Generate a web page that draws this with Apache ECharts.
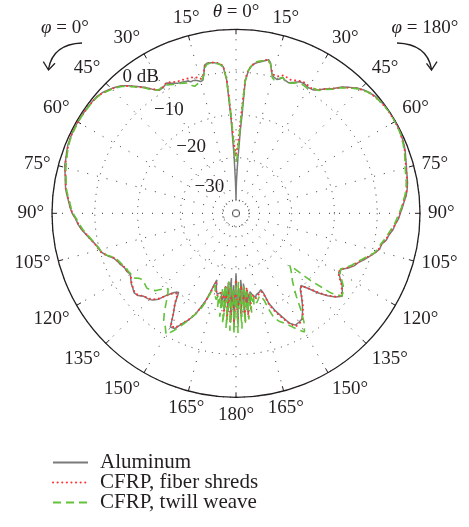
<!DOCTYPE html>
<html><head><meta charset="utf-8">
<script src="https://cdn.jsdelivr.net/npm/echarts@6/dist/echarts.min.js"></script>
<style>html,body{margin:0;padding:0;background:#fff}#c{width:469px;height:527px}</style>
</head><body><div id="c"></div>
<script>
// theta (deg) from boresight; right half = phi 180, left half = phi 0
const theta = [
  0,0.5,1,1.5,2,2.5,3,3.5,4,
  5,6,7,8,9,10,11,12,13,14,15,16,17,18,19,20,
  22,24,26,28,30,32,34,36,38,40,42,44,46,48,50,52,54,56,58,60,
  62,64,66,68,70,72,74,76,78,80,82,84,86,88,90,92,94,96,98,100,
  102,104,106,108,110,112,114,116,118,120,122,124,126,128,130,132,134,136,138,140,
  142,144,146,148,150,152,154,156,158,160,
  161,162,163,164,165,166,167,168,169,170,171,172,173,174,175,176,177,178,179,180
];
// Aluminum (dB)
const aluminumPhi180 = [
  -40,-37,-35,-33,-30,-27.8,-23.5,-20,-12,
  -9.5,-8.4,-7.8,-7.4,-7.2,-6.9,-6.6,-6.3,-7.0,-8.8,-9.8,-10.1,-10.3,-10.0,-9.4,-9.8,
  -10.1,-9.5,-8.8,-8.8,-9.1,-9.0,-8.2,-7.0,-6.0,-4.5,-3.4,-2.3,-1.5,-0.9,-0.5,-0.3,-0.1,0,0,0,
  -0.1,-0.2,-0.4,-0.6,-0.9,-1.3,-1.6,-1.9,-2.1,-2.3,-2.6,-3.0,-3.6,-4.1,-4.6,-5.0,-5.7,-6.1,-6.9,-7.3,
  -8.2,-8.4,-9.3,-10.3,-11.2,-12.2,-12.8,-13.8,-15.1,-15.3,-14.3,-13.1,-12.3,-11.5,-12.6,-14.2,-16.2,-18.5,-20.3,-19.6,
  -18.1,-16.6,-15.2,-13.9,-13.6,-13.4,-14.4,-16.5,-18.4,-20.6,
  -23.3,-24.2,-24.0,-23.7,-23.9,-23.4,-22.8,-22.9,-23.8,-24.4,-21.5,-25.0,-19.5,-26.5,-18.2,-27.4,-19.0,-25.5,-17.2,-29.0
];
const aluminumPhi0 = [
  -40,-38,-35.5,-33,-29,-26,-21,-17,-11.8,
  -8.6,-8.0,-7.7,-7.5,-7.4,-7.3,-7.3,-7.6,-9.6,-11.0,-11.1,-10.8,-10.5,-10.4,-10.5,-10.1,
  -9.9,-9.7,-9.2,-8.5,-9.0,-9.1,-8.0,-6.6,-5.4,-4.1,-2.9,-2.1,-1.5,-0.9,-0.55,-0.45,-0.4,-0.35,-0.3,-0.3,
  -0.3,-0.35,-0.5,-0.6,-0.9,-1.2,-1.4,-1.8,-2.2,-2.5,-2.8,-3.3,-3.8,-4.2,-4.7,-5.5,-6.0,-6.7,-7.6,-8.4,
  -9.2,-9.8,-10.2,-11.2,-12.5,-13.1,-13.5,-14.0,-14.1,-14.5,-14.0,-13.5,-13.2,-12.8,-13.1,-14.0,-14.3,-14.8,-16.0,-18.1,
  -19.5,-20.2,-17.5,-15.4,-12.3,-12.5,-14.3,-15.7,-17.5,-20.2,
  -21.6,-23.5,-25.5,-26.8,-25.2,-24.2,-23.6,-23.9,-24.1,-23.6,-21.0,-25.8,-20.0,-26.8,-18.6,-27.8,-17.6,-26.2,-16.5,-29.0
];
// CFRP, fiber shreds (dB)
const fiberPhi180 = [
  -29,-28.5,-28,-27,-25,-23,-20,-16,-11.5,
  -9.2,-8.3,-7.7,-7.3,-7.0,-6.8,-6.5,-6.4,-7.3,-8.5,-9.4,-9.6,-9.5,-9.3,-8.9,-9.0,
  -9.3,-9.0,-8.6,-8.5,-8.8,-8.9,-8.1,-7.0,-6.0,-4.6,-3.5,-2.4,-1.6,-1.0,-0.6,-0.4,-0.2,-0.1,-0.1,-0.1,
  -0.2,-0.3,-0.5,-0.7,-1.0,-1.4,-1.7,-2.0,-2.2,-2.4,-2.7,-3.1,-3.7,-4.2,-4.7,-5.2,-5.7,-6.4,-6.9,-7.5,
  -8.2,-8.6,-9.3,-10.4,-11.4,-12.4,-13.0,-14.0,-15.2,-15.4,-14.5,-13.3,-12.4,-11.7,-12.7,-14.3,-16.4,-18.6,-20.2,-19.4,
  -18.0,-16.4,-15.0,-13.7,-13.3,-13.1,-14.2,-16.2,-18.0,-20.2,
  -22.8,-23.8,-23.7,-23.4,-23.2,-23.0,-22.5,-23.2,-23.6,-24.0,-20.0,-25.5,-18.5,-24.5,-17.8,-26.0,-19.5,-24.0,-18.0,-27.5
];
const fiberPhi0 = [
  -30,-29,-28,-27,-25,-23,-19.5,-15.5,-11.2,
  -8.4,-7.9,-7.6,-7.4,-7.3,-7.3,-7.4,-7.9,-9.3,-10.4,-10.5,-10.0,-9.8,-9.6,-9.6,-9.5,
  -9.4,-9.3,-8.9,-8.4,-8.9,-9.0,-8.0,-6.7,-5.5,-4.2,-3.0,-2.2,-1.6,-1.0,-0.6,-0.5,-0.45,-0.4,-0.35,-0.35,
  -0.35,-0.4,-0.55,-0.7,-1.0,-1.3,-1.5,-1.9,-2.3,-2.6,-2.9,-3.4,-3.9,-4.3,-4.8,-5.6,-6.1,-6.8,-7.7,-8.4,
  -9.2,-9.7,-10.2,-11.2,-12.6,-13.2,-13.6,-14.1,-14.2,-14.6,-14.1,-13.6,-13.3,-12.9,-13.2,-14.1,-14.4,-15.0,-16.2,-18.0,
  -19.3,-19.8,-17.4,-15.3,-12.6,-12.7,-14.4,-15.8,-17.6,-20.0,
  -21.4,-23.2,-25.0,-26.2,-24.8,-24.0,-23.3,-24.2,-23.8,-24.6,-20.5,-26.0,-19.0,-27.0,-18.0,-25.5,-17.5,-24.0,-17.0,-27.5
];
// CFRP, twill weave (dB)
const twillPhi180 = [
  -31,-30.5,-30,-29,-27,-24.5,-21,-17,-12,
  -9.4,-8.3,-7.6,-7.2,-7.0,-6.8,-6.6,-6.4,-7.2,-8.7,-10.2,-10.6,-10.3,-9.8,-9.4,-9.9,
  -10.2,-9.7,-9.0,-9.2,-9.4,-8.6,-8.4,-7.2,-6.2,-4.7,-3.6,-2.5,-1.6,-1.0,-0.6,-0.4,-0.2,-0.1,-0.1,-0.1,
  -0.2,-0.3,-0.5,-0.8,-1.1,-1.5,-1.9,-2.2,-2.4,-2.6,-2.9,-3.3,-3.9,-4.3,-4.9,-5.4,-5.9,-6.6,-7.2,-7.8,
  -8.4,-8.8,-9.4,-10.6,-11.6,-12.6,-13.3,-14.2,-15.3,-14.9,-13.9,-12.8,-12.0,-11.6,-14.0,-19.5,-25.5,-24.5,-23.5,-22.5,
  -21.0,-19.0,-16.0,-13.0,-11.0,-12.2,-13.6,-14.8,-15.7,-17.0,
  -19.0,-21.5,-22.5,-23.0,-22.5,-22.0,-21.5,-23.0,-21.0,-24.5,-19.5,-24.5,-18.0,-26.0,-17.0,-25.0,-16.0,-27.0,-15.0,-26.5
];
const twillPhi0 = [
  -31,-30.5,-30,-28.5,-26,-23,-19,-15.5,-11.5,
  -8.7,-8.1,-7.8,-7.6,-7.5,-7.4,-7.5,-8.2,-9.8,-11.0,-11.3,-11.3,-11.6,-11.8,-11.4,-10.6,
  -10.2,-9.8,-9.5,-9.0,-8.7,-9.0,-8.3,-6.8,-5.6,-4.3,-3.1,-2.3,-1.7,-1.1,-0.7,-0.55,-0.5,-0.45,-0.4,-0.4,
  -0.45,-0.5,-0.6,-0.8,-1.1,-1.4,-1.7,-2.0,-2.4,-2.7,-3.0,-3.5,-4.0,-4.4,-4.9,-5.7,-6.3,-7.0,-7.8,-8.6,
  -9.3,-9.9,-10.3,-11.3,-12.8,-13.4,-13.8,-14.3,-14.4,-14.6,-14.5,-15.8,-16.3,-16.0,-15.8,-16.2,-17.0,-18.4,-19.3,-18.2,
  -16.5,-14.5,-12.8,-11.8,-10.3,-11.9,-13.8,-15.6,-17.5,-19.5,
  -21.0,-23.0,-24.5,-25.5,-24.0,-23.0,-22.3,-23.5,-20.5,-25.0,-18.5,-26.0,-17.0,-27.0,-16.0,-26.0,-15.5,-25.0,-14.8,-26.5
];
const seriesNames = ['Aluminum', 'CFRP, fiber shreds', 'CFRP, twill weave'];
const ringValues = [0, -10, -20, -30];
const ringTexts = ['0 dB', '\u221210', '\u221220', '\u221230'];

const FONT = '"Liberation Serif","Times New Roman",serif';
const INK = '#231f20';
const ringLabelAngles = [35, 33, 34, 45]; // layout: direction of the dB labels (left of top)

function loop(right, left) {
  const d = [];
  for (let i = 0; i < theta.length; i++) d.push([right[i], theta[i]]);
  for (let i = theta.length - 1; i >= 0; i--) d.push([left[i], 360 - theta[i]]);
  return d;
}

const chart = echarts.init(document.getElementById('c'), null, {renderer: 'canvas'});
const option = {
  animation: false,
  backgroundColor: '#fff',
  polar: { center: [236, 213.3], radius: 184 },
  angleAxis: {
    type: 'value', min: 0, max: 360, interval: 15, startAngle: 90, clockwise: true,
    axisLine: { show: true, lineStyle: { color: INK, width: 1.3 } },
    axisTick: { show: true, inside: true, length: 5, lineStyle: { color: INK, width: 1 } },
    axisLabel: {
      margin: 8, fontFamily: FONT, fontSize: 19, color: INK,
      formatter: function (v) { return v === 0 ? '{i|\u03b8} = 0\u00b0' : (v <= 180 ? v : 360 - v) + '\u00b0'; },
      rich: { i: { fontStyle: 'italic', fontFamily: FONT, fontSize: 19, color: INK } }
    },
    splitLine: { show: true, lineStyle: { color: '#333', width: 1, type: [1, 9] } }
  },
  radiusAxis: {
    type: 'value', min: -43, max: 0,
    axisLine: { show: false }, axisTick: { show: false }, axisLabel: { show: false },
    splitLine: { show: true, lineStyle: { color: '#333', width: 1, type: [1, 6] } }
  },
  legend: {
    orient: 'vertical', left: 52, top: 452, height: 75, padding: 0, itemWidth: 35, itemHeight: 14, itemGap: -1,
    itemStyle: { opacity: 0 },
    textStyle: { fontFamily: FONT, fontSize: 21, color: INK, lineHeight: 14, padding: [0, 0, 0, 7] },
    data: seriesNames
  },
  series: [
    { type: 'line', name: seriesNames[0], coordinateSystem: 'polar', symbol: 'none', color: '#7a7a7a',
      itemStyle: { opacity: 0 },
      lineStyle: { width: 1.5, color: '#7a7a7a' }, data: loop(aluminumPhi180, aluminumPhi0) },
    { type: 'line', name: seriesNames[1], coordinateSystem: 'polar', symbol: 'none', color: '#ff3333',
      itemStyle: { opacity: 0 },
      lineStyle: { width: 2, color: '#ff3333', type: [0.1, 4.5], cap: 'round' }, data: loop(fiberPhi180, fiberPhi0) },
    { type: 'line', name: seriesNames[2], coordinateSystem: 'polar', symbol: 'none', color: '#62c23a',
      itemStyle: { opacity: 0 },
      lineStyle: { width: 1.6, color: '#62c23a', type: [8, 5] }, data: loop(twillPhi180, twillPhi0) }
  ]
};
chart.setOption(option);

const c0 = chart.convertToPixel({ polarIndex: 0 }, [-43, 0]);
const graphics = ringValues.map(function (v, i) {
  const p = chart.convertToPixel({ polarIndex: 0 }, [v, 360 - ringLabelAngles[i]]);
  const dx = p[0] - c0[0], dy = p[1] - c0[1];
  const r = Math.sqrt(dx * dx + dy * dy);
  const k = (r - 18) / r;
  return { type: 'text', x: c0[0] + dx * k, y: c0[1] + dy * k,
    style: { text: ringTexts[i], font: '19px ' + FONT, fill: INK, align: 'center', verticalAlign: 'middle' }, z: 10 };
});
graphics.push(
  { type: 'text', x: 65, y: 28, style: { text: '{i|\u03c6} = 0\u00b0', font: '19px ' + FONT, fill: INK, align: 'center', verticalAlign: 'middle',
    rich: { i: { font: 'italic 19px ' + FONT, fill: INK } } } },
  { type: 'text', x: 425, y: 28, style: { text: '{i|\u03c6} = 180\u00b0', font: '19px ' + FONT, fill: INK, align: 'center', verticalAlign: 'middle',
    rich: { i: { font: 'italic 19px ' + FONT, fill: INK } } } },
  { type: 'bezierCurve', shape: { x1: 82, y1: 43, cpx1: 53, cpy1: 44, x2: 48.5, y2: 69 }, style: { stroke: INK, lineWidth: 1.3, fill: null } },
  { type: 'polyline', shape: { points: [[43.3, 61.7], [48.5, 70], [55, 63.3]] }, style: { stroke: INK, lineWidth: 1.3, fill: null } },
  { type: 'bezierCurve', shape: { x1: 397, y1: 43, cpx1: 427, cpy1: 44, x2: 431.5, y2: 69 }, style: { stroke: INK, lineWidth: 1.3, fill: null } },
  { type: 'polyline', shape: { points: [[426.5, 63.3], [431.5, 70], [437, 61.7]] }, style: { stroke: INK, lineWidth: 1.3, fill: null } }
);
chart.setOption({ graphic: graphics });
</script>
</body></html>
